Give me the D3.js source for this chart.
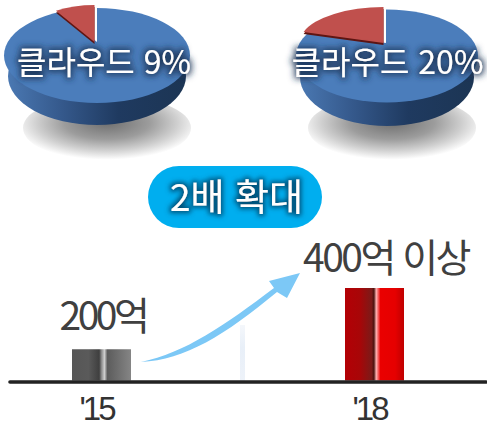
<!DOCTYPE html>
<html lang="ko">
<head>
<meta charset="utf-8">
<script src="https://cdn.jsdelivr.net/npm/d3@7"></script>
<style>
  html, body { margin: 0; padding: 0; background: #fff; }
  svg { display: block; }
  text { font-family: "Noto Sans CJK KR", "Noto Sans", sans-serif; }
</style>
</head>
<body>
<svg id="chart" width="487" height="428"></svg>
<script>
// Cloud share before and after
const shareLabels = ["클라우드 9%", "클라우드 20%"];
const cloudShare = [9, 20];

// Market size by year
const years = ["'15", "'18"];
const marketSize = [200, 400];
const marketLabels = ["200억", "400억 이상"];
const growthLabel = "2배 확대";

const svg = d3.select("#chart");
const defs = svg.append("defs");

function linearGradient(id, stops) {
  const g = defs.append("linearGradient").attr("id", id);
  stops.forEach(([o, c]) => g.append("stop").attr("offset", o).attr("stop-color", c));
}
linearGradient("pieSide", [[0, "#4a78b2"], [0.3, "#35598c"], [0.62, "#1f3a60"], [1, "#1c3554"]]);
linearGradient("barGray", [[0, "#565656"], [0.28, "#5a5a5a"], [0.46, "#3f3f3f"], [0.5, "#8a8a8a"],
                           [0.55, "#cfcfcf"], [0.6, "#5c5c5c"], [1, "#858585"]]);
linearGradient("barRed", [[0, "#b30005"], [0.25, "#a80608"], [0.45, "#7c1a18"], [0.49, "#4c1410"],
                          [0.53, "#ffb4b4"], [0.6, "#ea0000"], [0.85, "#e60000"], [1, "#bf0000"]]);

const shadowGrad = defs.append("radialGradient").attr("id", "pieShadow")
  .attr("cx", 0.5).attr("cy", 0.42).attr("r", 0.56);
[[0, "#6f6f6f"], [0.45, "#9c9c9c"], [0.75, "#d0d0d0"], [1, "#ffffff"]].forEach(([o, c]) =>
  shadowGrad.append("stop").attr("offset", o).attr("stop-color", c));

const guideGrad = defs.append("linearGradient").attr("id", "guideFade")
  .attr("x1", 0).attr("x2", 0).attr("y1", 0).attr("y2", 1);
[[0, "#f4f7fb"], [0.4, "#e8eff8"], [1, "#edf2f9"]].forEach(([o, c]) =>
  guideGrad.append("stop").attr("offset", o).attr("stop-color", c));

function glow(id, colour, blur, opacity) {
  const f = defs.append("filter").attr("id", id)
    .attr("x", "-15%").attr("y", "-50%").attr("width", "130%").attr("height", "200%");
  f.append("feMorphology").attr("in", "SourceAlpha").attr("operator", "dilate").attr("radius", 1.5).attr("result", "fat");
  f.append("feGaussianBlur").attr("in", "fat").attr("stdDeviation", blur).attr("result", "soft");
  f.append("feFlood").attr("flood-color", colour).attr("flood-opacity", opacity).attr("result", "tint");
  f.append("feComposite").attr("in", "tint").attr("in2", "soft").attr("operator", "in").attr("result", "halo");
  const m = f.append("feMerge");
  m.append("feMergeNode").attr("in", "halo");
  m.append("feMergeNode").attr("in", "SourceGraphic");
}
glow("labelGlow", "#1b3355", 3, 0.85);
glow("pillGlow", "#00486e", 2.8, 0.9);

const softEdge = defs.append("filter").attr("id", "soft");
softEdge.append("feGaussianBlur").attr("stdDeviation", 0.6);

// Placement of each tilted pie
const pies = [
  { cx: 97, cy: 55.5, rx: 93, ry: 47.5, sideCx: 97, sideCy: 76, sideRx: 89, sideRy: 49,
    apexX: 95, apexY: 42, wedgeRx: 72, wedgeRy: 37, shadowX: 107, shadowRx: 84, labelX: 104 },
  { cx: 387, cy: 56, rx: 91, ry: 46.5, sideCx: 387, sideCy: 77, sideRx: 87, sideRy: 49,
    apexX: 384, apexY: 43, wedgeRx: 84, wedgeRy: 36, shadowX: 392, shadowRx: 84, labelX: 387.5 }
];

const pieLayout = d3.pie().sort(null).startAngle(-Math.PI * 2).endAngle(0).value(d => d);
const ellipseArc = d3.arc().innerRadius(0).outerRadius(1).startAngle(0).endAngle(Math.PI * 2);

pies.forEach((p, i) => {
  const g = svg.append("g");

  g.append("ellipse").attr("cx", p.shadowX).attr("cy", 128)
    .attr("rx", p.shadowRx).attr("ry", 33).attr("fill", "url(#pieShadow)");

  g.append("ellipse").attr("cx", p.sideCx).attr("cy", p.sideCy)
    .attr("rx", p.sideRx).attr("ry", p.sideRy).attr("fill", "url(#pieSide)");

  g.append("path").attr("d", ellipseArc())
    .attr("transform", `translate(${p.cx},${p.cy}) scale(${p.rx},${p.ry})`)
    .attr("fill", "#4b7dbb");

  // The cloud slice sits at the top, ending on twelve o'clock
  const slices = pieLayout([cloudShare[i], 100 - cloudShare[i]]);
  const span = slices[0].endAngle - slices[0].startAngle;
  const sliceArc = d3.arc().innerRadius(0).outerRadius(p.wedgeRx)
    .startAngle(-span).endAngle(0);
  const k = p.wedgeRy / p.wedgeRx;

  // Cut-out behind the slice, then its dark cut face, then the slice itself
  g.append("path").attr("d", sliceArc())
    .attr("transform", `translate(${p.apexX + 2},${p.apexY}) scale(1,${k})`)
    .attr("fill", "#ffffff");
  g.append("path").attr("d", sliceArc())
    .attr("transform", `translate(${p.apexX - 0.5},${p.apexY + 2}) scale(1,${k})`)
    .attr("fill", "#5e1512");
  g.append("path").attr("d", sliceArc())
    .attr("transform", `translate(${p.apexX - 0.5},${p.apexY}) scale(1,${k})`)
    .attr("fill", "#c0504d");

  g.append("text").attr("x", p.labelX).attr("y", 74)
    .attr("text-anchor", "middle").attr("font-size", 32)
    .attr("fill", "#fff").attr("filter", "url(#labelGlow)")
    .text(shareLabels[i]);
});

// Growth badge
svg.append("rect").attr("x", 148).attr("y", 166).attr("width", 174).attr("height", 62)
  .attr("rx", 31).attr("fill", "#00aeef");
svg.append("text").attr("x", 236.5).attr("y", 211)
  .attr("text-anchor", "middle").attr("font-size", 37)
  .attr("fill", "#fff").attr("filter", "url(#pillGlow)")
  .text(growthLabel);

// Market size bars
const x = d3.scalePoint().domain(years).range([101.5, 374.5]);
const y = d3.scaleLinear().domain([98, 400]).range([380.5, 288]);
const barWidth = 59;

// Faint guide between the two years
svg.append("rect").attr("x", 240).attr("y", 325).attr("width", 5).attr("height", 56)
  .attr("fill", "url(#guideFade)").attr("filter", "url(#soft)");

svg.selectAll("rect.bar").data(marketSize).join("rect")
  .attr("class", "bar")
  .attr("x", (d, i) => x(years[i]) - barWidth / 2)
  .attr("y", d => y(d))
  .attr("width", barWidth)
  .attr("height", d => y.range()[0] - y(d))
  .attr("fill", (d, i) => i === 0 ? "url(#barGray)" : "url(#barRed)");

// Baseline and year labels come from the axis
const axis = svg.append("g").attr("transform", "translate(0,382)")
  .call(d3.axisBottom(x).tickSize(0).tickPadding(0));
axis.select(".domain").remove();
axis.selectAll("text")
  .attr("y", 38).attr("dy", 0)
  .attr("dx", -5.5)
  .attr("font-size", 33).attr("fill", "#333")
  .attr("letter-spacing", -3)
  .style("font-family", '"Liberation Sans", sans-serif');
svg.append("line").attr("x1", 10).attr("x2", 486).attr("y1", 382).attr("y2", 382)
  .attr("stroke", "#222").attr("stroke-width", 3.6).attr("stroke-linecap", "round");

// Value labels above the bars
svg.append("text").attr("x", 103).attr("y", 330)
  .attr("text-anchor", "middle").attr("font-size", 39).attr("letter-spacing", -3.5)
  .attr("fill", "#404040").text(marketLabels[0]);
svg.append("text").attr("x", 386).attr("y", 272)
  .attr("text-anchor", "middle").attr("font-size", 39).attr("letter-spacing", -2.5)
  .attr("fill", "#404040").text(marketLabels[1]);

// Tapered growth arrow
svg.append("path")
  .attr("d", "M141,362 C185,360 225,335 277,292 L287,298 L300,273 L269,281 L274,288 C225,325 185,353 141,362 Z")
  .attr("fill", "#7cc8f6").attr("filter", "url(#soft)");
</script>
</body>
</html>
